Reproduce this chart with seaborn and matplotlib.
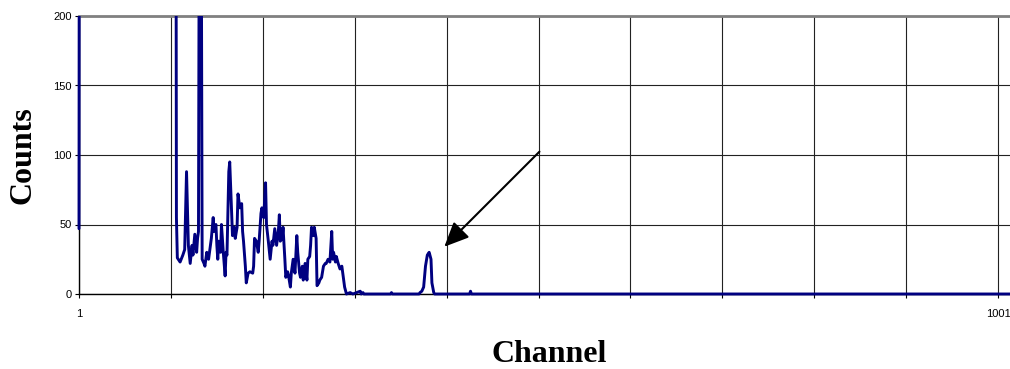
import matplotlib
matplotlib.use("Agg")
import matplotlib.pyplot as plt
import seaborn as sns
import pandas as pd
from matplotlib.transforms import Bbox, TransformedBbox

# channels (sparse: flat zero stretches are just end points)
channel = [1, 2, 106, 107, 108, 109, 111, 114, 116, 118, 120, 122, 124, 125, 127, 129, 130,
           131, 132, 133, 134, 135, 137, 138, 140, 142, 143, 145, 147, 148, 150, 151, 152,
           153, 155, 156, 158, 160, 161, 162, 164, 165, 167, 168, 170, 171, 173, 174, 176,
           178, 179, 180, 182, 183, 185, 187, 190, 191, 192, 194, 196, 197, 199, 200, 202,
           204, 205, 207, 209, 211, 212, 214, 216, 218, 219, 220, 222, 223, 225, 226, 228,
           229, 231, 232, 234, 236, 238, 239, 241, 242, 244, 245, 247, 249, 250, 252, 253,
           254, 256, 257, 259, 260, 262, 263, 265, 267, 269, 270, 272, 274, 276, 277, 278,
           280, 281, 283, 285, 287, 289, 290, 292, 296, 299, 303, 307, 308, 310, 311, 340,
           341, 342, 371, 372, 374, 376, 378, 380, 382, 384, 385, 387, 388, 426, 427, 428,
           1014]
counts = [47, 900, 600, 55, 26, 25, 23, 28, 32, 88, 35, 22, 35, 28, 43, 30, 40,
          45, 320, 400, 280, 25, 22, 20, 30, 25, 30, 40, 55, 45, 50, 35, 25,
          38, 30, 50, 30, 13, 30, 28, 88, 95, 60, 42, 48, 40, 48, 72, 62,
          65, 45, 38, 20, 8, 15, 16, 15, 20, 40, 38, 30, 38, 58, 62, 55,
          80, 50, 38, 25, 38, 35, 47, 35, 46, 57, 38, 40, 48, 25, 12, 16,
          13, 5, 15, 25, 15, 42, 30, 15, 12, 20, 10, 22, 10, 25, 27, 35,
          48, 42, 48, 40, 6, 8, 10, 12, 20, 22, 22, 25, 23, 45, 25, 30,
          23, 27, 22, 18, 20, 10, 5, 0, 1, 0, 1, 2, 0, 1, 0, 0,
          1, 0, 0, 1, 2, 5, 20, 28, 30, 25, 8, 1, 0, 0, 2, 0,
          0]

y_ticks = [0, 50, 100, 150, 200]
x_tick_labels = {1: "1", 1001: "1001"}

df = pd.DataFrame({"Channel": channel, "Counts": counts})

sns.set_style("white")
plt.rcParams['font.family'] = ['Liberation Sans', 'DejaVu Sans']
plt.rcParams['text.color'] = 'black'
plt.rcParams['xtick.color'] = 'black'
plt.rcParams['ytick.color'] = 'black'
plt.rcParams['xtick.labelcolor'] = 'black'
plt.rcParams['ytick.labelcolor'] = 'black'

fig = plt.figure(figsize=(10.10, 3.69), dpi=100)
ax = fig.add_axes([79 / 1010, 75 / 369, 931 / 1010, 278 / 369])

sns.lineplot(data=df, x="Channel", y="Counts", ax=ax, color="#000080",
             linewidth=2.1, sort=True, zorder=3)

ax.set_ylim(0, 200)
ax.set_xlim(1, 1014)

# let the line show its full width along the bottom and left edges
for ln in ax.get_lines():
    ln.set_clip_box(TransformedBbox(Bbox([[-0.004, -0.03], [1, 1]]), ax.transAxes))

# grid
xt = list(range(1, 1002, 100))
ax.set_xticks(xt)
ax.set_xticklabels([x_tick_labels.get(v, "") for v in xt], fontsize=8)
ax.set_yticks(y_ticks)
ax.set_yticklabels([str(v) for v in y_ticks], fontsize=8)
ax.grid(True, color="#222222", linewidth=0.8)
ax.set_axisbelow(True)
ax.tick_params(axis="both", direction="out", length=3, width=0.8, color="black",
               labelcolor="black", bottom=True, left=True, pad=2)
ax.tick_params(axis="x", pad=8)

for s in ["left", "bottom"]:
    ax.spines[s].set_color("black")
    ax.spines[s].set_linewidth(1.0)
ax.spines["top"].set_color("#808080")
ax.spines["top"].set_linewidth(2.0)
ax.spines["right"].set_visible(False)

ax.set_xlabel("")
ax.set_ylabel("")

fig.text(549 / 1010, 1 - 355 / 369, "Channel", ha="center", va="center", color="black",
         fontsize=23, fontweight="bold", family="Liberation Serif")
fig.text(23.5 / 1010, 1 - 155 / 369, "Counts", ha="center", va="center", color="black",
         rotation=90, fontsize=23, fontweight="bold", family="Liberation Serif")

ax.annotate("", xy=(398.5, 34), xytext=(502, 102.4),
            arrowprops=dict(arrowstyle="-|>,head_length=1.0,head_width=0.45",
                            color="black", lw=1.5, mutation_scale=15,
                            shrinkA=0, shrinkB=0))

fig.savefig("out.png", dpi=100)
